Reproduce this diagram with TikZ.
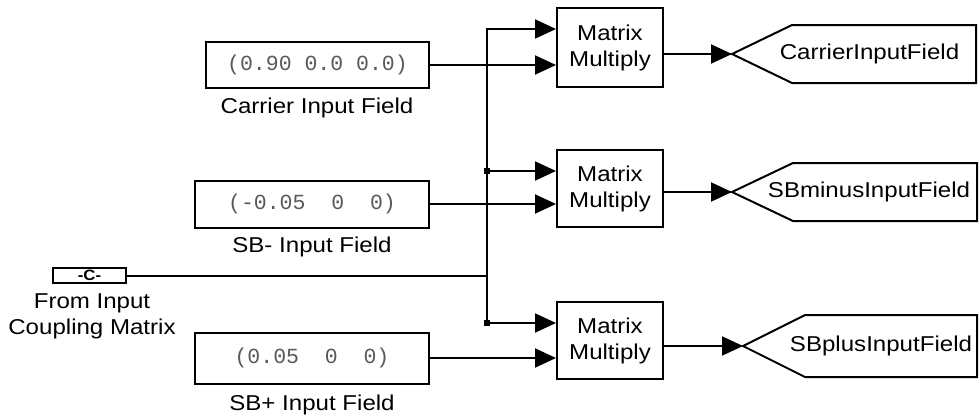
\documentclass[tikz,border=0pt]{standalone}
\usepackage{fontspec}
\setmainfont{Liberation Sans}[FakeStretch=1.12]
\newfontfamily\constfont{Liberation Mono}
\usetikzlibrary{arrows.meta, positioning}

\begin{document}
\begin{tikzpicture}[
    x=1pt, y=-1pt,
    block/.style={
        rectangle, draw=black, line width=2pt,
        inner sep=0pt, align=center,
        font=\fontsize{21.5}{26}\selectfont
    },
    constant/.style={
        block, text=black!65,
        font=\constfont\fontsize{21.5}{26}\selectfont
    },
    blocklabel/.style={font=\fontsize{21.5}{26}\selectfont, align=center, inner sep=0pt},
    wire/.style={line width=2pt},
    arrow/.style={wire, -{Triangle[length=21pt, width=19pt]}},
    junction/.style={rectangle, fill=black, minimum size=6pt, inner sep=0pt},
    gototag/.style={draw=black, line width=2pt, line join=miter},
]
\useasboundingbox (0,0) rectangle (980,416);

% Constant blocks
\node[constant, minimum width=223pt, minimum height=46pt] (cCarrier) at (317.5,65)
    {(0.90 0.0 0.0)};
\node[constant, minimum width=234pt, minimum height=47pt] (cSBm) at (312,204)
    {(-0.05\ \ 0\ \ 0)};
\node[constant, minimum width=234pt, minimum height=51pt] (cSBp) at (312,358)
    {(0.05\ \ 0\ \ 0)};

\node[blocklabel] (lCarrier) at (317,108) {Carrier Input Field};
\node[blocklabel] (lSBm)     at (312,247) {SB- Input Field};
\node[blocklabel] (lSBp)     at (312,405) {SB+ Input Field};

% From block
\node[block, minimum width=73pt, minimum height=15pt,
      font=\fontsize{15}{15}\selectfont\bfseries] (fromCM) at (89.5,275.5) {-C-};
\node[blocklabel] (lFrom) at (92,316) {From Input\\Coupling Matrix};

% Matrix multiply blocks
\node[block, minimum width=106pt, minimum height=79pt] (mulC)   at (610,47.5)
    {Matrix\\Multiply};
\node[block, minimum width=106pt, minimum height=77pt] (mulSBm) at (610,188.5)
    {Matrix\\Multiply};
\node[block, minimum width=106pt, minimum height=77pt] (mulSBp) at (610,340.5)
    {Matrix\\Multiply};

% Goto tags
\coordinate (tipC)   at (732,54);
\coordinate (tipSBm) at (732,192);
\coordinate (tipSBp) at (743,346);
\draw[gototag] (tipC) -- (792,25) -- (976,25) -- (976,83) -- (792,83) -- cycle;
\draw[gototag] (tipSBm) -- (793,163) -- (977,163) -- (977,221) -- (793,221) -- cycle;
\draw[gototag] (tipSBp) -- (805,315) -- (977,315) -- (977,377) -- (805,377) -- cycle;
\node[blocklabel] (gCarrier) at (869.5,54)  {CarrierInputField};
\node[blocklabel] (gSBm)     at (869,192)   {SBminusInputField};
\node[blocklabel] (gSBp)     at (881,346)   {SBplusInputField};

% Bus from the coupling matrix
\coordinate (busTop) at (487,29);
\coordinate (jSBm)   at (487,171);
\coordinate (jSBp)   at (487,323);
\draw[wire] (fromCM.east) -- (fromCM.east -| busTop);
\draw[arrow] (jSBp) -- (busTop) -- (busTop -| mulC.west);
\draw[arrow] (jSBm) -- (jSBm -| mulSBm.west);
\draw[arrow] (jSBp) -- (jSBp -| mulSBp.west);
\node[junction] (dotSBm) at (jSBm) {};
\node[junction] (dotSBp) at (jSBp) {};

% Fields into the multipliers
\draw[arrow] (cCarrier.east) -- (cCarrier.east -| mulC.west);
\draw[arrow] (cSBm.east) -- (cSBm.east -| mulSBm.west);
\draw[arrow] (cSBp.east) -- (cSBp.east -| mulSBp.west);

% Products to the tags
\draw[arrow] (mulC.east |- tipC) -- (tipC);
\draw[arrow] (mulSBm.east |- tipSBm) -- (tipSBm);
\draw[arrow] (mulSBp.east |- tipSBp) -- (tipSBp);

\end{tikzpicture}
\end{document}
